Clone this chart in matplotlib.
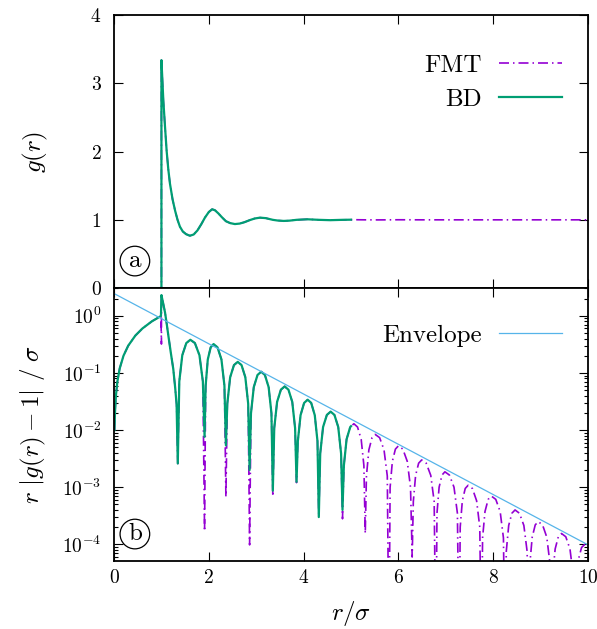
"""g(r) from FMT and BD, linear (a) and log (b) panels"""
import matplotlib; matplotlib.use("Agg")
import matplotlib.pyplot as plt

plt.rcParams["font.family"] = "serif"
plt.rcParams["font.serif"] = ["cmr10"]
plt.rcParams["mathtext.fontset"] = "cm"
plt.rcParams["axes.formatter.use_mathtext"] = True
plt.rcParams["axes.unicode_minus"] = False

PURPLE = "#9400d3"; GREEN = "#009e73"; BLUE = "#56b4e9"

# ---- panel (a): g(r) ----
bd_top_r = [0.0, 1.0, 1.0, 1.02, 1.04, 1.075, 1.11, 1.145, 1.18, 1.235, 1.29, 1.34, 1.39,
            1.45, 1.52, 1.6, 1.68, 1.76, 1.84, 1.92, 2.0, 2.07, 2.13, 2.2, 2.28, 2.36,
            2.45, 2.55, 2.65, 2.75, 2.86, 2.97, 3.08, 3.2, 3.35, 3.45, 3.58, 3.7, 3.85,
            4.08, 4.32, 4.56, 4.82, 5.0]
bd_top_g = [0.0, 0.0, 3.34, 3.05, 2.75, 2.37, 2.01, 1.74, 1.53, 1.30, 1.13, 1.0, 0.90,
            0.83, 0.79, 0.767, 0.785, 0.845, 0.935, 1.035, 1.115, 1.155, 1.14, 1.095,
            1.035, 0.98, 0.952, 0.938, 0.945, 0.965, 0.995, 1.02, 1.032, 1.025, 1.0,
            0.99, 0.984, 0.988, 1.0, 1.008, 1.0, 0.995, 1.0, 1.002]
# FMT lies on top of BD up to r = 5, then flat at 1
fmt_top_r = bd_top_r + [5.3, 5.55, 5.8, 6.0, 6.5, 7.0, 8.0, 10.0]
fmt_top_g = bd_top_g + [1.0, 0.999, 1.0, 1.001, 1.0, 1.0, 1.0, 1.0]

# ---- panel (b): r|g(r)-1| ----
core_r = [0.01, 0.02, 0.04, 0.07, 0.12, 0.2, 0.3, 0.45, 0.6, 0.8, 0.99]
core_y = [0.01, 0.02, 0.04, 0.07, 0.12, 0.2, 0.3, 0.45, 0.6, 0.8, 0.99]

bd_r = core_r + [1.0, 1.04, 1.076, 1.11, 1.146, 1.2, 1.25, 1.29, 1.32, 1.345,
                 1.377, 1.44, 1.525, 1.61, 1.706, 1.802, 1.874, 1.91,
                 1.933, 1.978, 2.039, 2.10, 2.183, 2.266, 2.329, 2.36,
                 2.39, 2.45, 2.53, 2.61, 2.69, 2.77, 2.83, 2.86,
                 2.889, 2.948, 3.027, 3.105, 3.183, 3.262, 3.321, 3.35,
                 3.38, 3.44, 3.52, 3.60, 3.68, 3.76, 3.82, 3.85,
                 3.878, 3.935, 4.01, 4.085, 4.16, 4.235, 4.292, 4.32,
                 4.35, 4.41, 4.49, 4.57, 4.65, 4.73, 4.79, 4.82,
                 4.849, 4.906, 4.983, 5.0]
bd_y = core_y + [2.3, 1.6, 1.14, 0.74, 0.45, 0.22, 0.117, 0.055, 0.028, 0.0026,
                 0.071, 0.204, 0.333, 0.38, 0.333, 0.204, 0.071, 0.0076,
                 0.060, 0.172, 0.280, 0.32, 0.280, 0.172, 0.060, 0.0054,
                 0.029, 0.084, 0.137, 0.156, 0.137, 0.084, 0.029, 0.0020,
                 0.0196, 0.0563, 0.092, 0.105, 0.092, 0.0563, 0.0196, 0.00087,
                 0.0108, 0.0311, 0.0508, 0.058, 0.0508, 0.0311, 0.0108, 0.00124,
                 0.0064, 0.0182, 0.0298, 0.034, 0.0298, 0.0182, 0.0064, 0.00030,
                 0.0039, 0.0113, 0.0184, 0.021, 0.0184, 0.0113, 0.0039, 0.00040,
                 0.0024, 0.0069, 0.0113, 0.0117]

fmt_r = core_r + [1.0, 1.001, 1.04, 1.076, 1.11, 1.146, 1.2, 1.25, 1.29, 1.32, 1.345,
                  1.377, 1.44, 1.525, 1.61, 1.706, 1.802, 1.874, 1.91,
                  1.933, 1.978, 2.039, 2.10, 2.183, 2.266, 2.329, 2.36,
                  2.39, 2.45, 2.53, 2.61, 2.69, 2.77, 2.83, 2.86,
                  2.889, 2.948, 3.027, 3.105, 3.183, 3.262, 3.321, 3.35,
                  3.38, 3.44, 3.52, 3.60, 3.68, 3.76, 3.82, 3.85,
                  3.878, 3.935, 4.01, 4.085, 4.16, 4.235, 4.292, 4.32,
                  4.35, 4.41, 4.49, 4.57, 4.65, 4.73, 4.79, 4.82,
                  4.849, 4.906, 4.983, 5.06, 5.137, 5.214, 5.271, 5.30,
                  5.325, 5.376, 5.443, 5.51, 5.603, 5.696, 5.765, 5.80,
                  5.824, 5.872, 5.936, 6.0, 6.093, 6.186, 6.255, 6.29,
                  6.314, 6.362, 6.426, 6.49, 6.586, 6.682, 6.754, 6.79,
                  6.813, 6.858, 6.919, 6.98, 7.076, 7.172, 7.244, 7.28,
                  7.303, 7.348, 7.409, 7.47, 7.56, 7.649, 7.716, 7.75,
                  7.775, 7.826, 7.893, 7.96, 8.053, 8.146, 8.215, 8.25,
                  8.275, 8.326, 8.393, 8.46, 8.553, 8.646, 8.715, 8.75,
                  8.774, 8.822, 8.886, 8.95, 9.04, 9.129, 9.196, 9.23,
                  9.255, 9.306, 9.373, 9.44, 9.53, 9.619, 9.686, 9.72,
                  9.745, 9.796, 9.863, 9.93, 10.0]
fmt_y = core_y + [0.32, 2.35, 1.6, 1.14, 0.74, 0.45, 0.22, 0.117, 0.055, 0.028, 0.0026,
                  0.071, 0.204, 0.333, 0.38, 0.333, 0.204, 0.071, 0.00017,
                  0.060, 0.172, 0.280, 0.32, 0.280, 0.172, 0.060, 0.00068,
                  0.029, 0.084, 0.137, 0.156, 0.137, 0.084, 0.029, 0.000098,
                  0.0196, 0.0563, 0.092, 0.105, 0.092, 0.0563, 0.0196, 0.00069,
                  0.0108, 0.0311, 0.0508, 0.058, 0.0508, 0.0311, 0.0108, 0.0012,
                  0.0064, 0.0182, 0.0298, 0.034, 0.0298, 0.0182, 0.0064, 0.00030,
                  0.0039, 0.0113, 0.0184, 0.021, 0.0184, 0.0113, 0.0039, 0.00028,
                  0.0024, 0.0069, 0.0113, 0.0129, 0.0113, 0.0069, 0.0024, 0.000155,
                  0.00157, 0.0045, 0.00736, 0.0084, 0.00736, 0.0045, 0.00157, 1e-6,
                  0.00099, 0.00284, 0.00464, 0.0053, 0.00464, 0.00284, 0.00099, 0.00006,
                  0.00056, 0.00161, 0.00263, 0.0030, 0.00263, 0.00161, 0.00056, 1e-6,
                  0.00035, 0.0010, 0.00163, 0.00186, 0.00163, 0.0010, 0.00035, 1e-6,
                  0.00020, 0.00058, 0.00095, 0.00108, 0.00095, 0.00058, 0.00020, 1e-6,
                  0.00013, 0.000375, 0.000613, 0.0007, 0.000613, 0.000375, 0.00013, 1e-6,
                  0.000075, 0.000214, 0.00035, 0.0004, 0.00035, 0.000214, 0.000075, 1e-6,
                  0.000047, 0.000134, 0.000219, 0.00025, 0.000219, 0.000134, 0.000047, 1e-6,
                  0.000029, 0.000083, 0.000136, 0.000155, 0.000136, 0.000083, 0.000029, 1e-6,
                  0.000019, 0.000054, 0.000088, 0.0001, 0.000096]

env_r = [0.0, 10.0]
env_y = [2.45, 9.8e-5]

FMT_LS = (0, (6, 2.4, 0.9, 2.4))

fig = plt.figure(figsize=(5.97, 6.29), dpi=100)
ax1 = fig.add_axes([0.191, 0.542, 0.794, 0.434])
ax2 = fig.add_axes([0.191, 0.108, 0.794, 0.434])

ax1.plot(fmt_top_r, fmt_top_g, color=PURPLE, lw=1.2, ls=FMT_LS, label="FMT")
ax1.plot(bd_top_r, bd_top_g, color=GREEN, lw=1.6, label="BD")
ax1.set_xlim(0, 10); ax1.set_ylim(0, 4)
ax1.set_yticks([0, 1, 2, 3, 4]); ax1.set_xticks(range(0, 11, 2))
ax1.set_xticklabels([])
ax1.set_ylabel(r"$g(r)$", fontsize=18)
ax1.yaxis.set_label_coords(-0.135, 0.5)
ax1.legend(loc="upper right", bbox_to_anchor=(0.945, 0.856), frameon=False,
           markerfirst=False, fontsize=18, handlelength=2.5, handletextpad=0.7,
           labelspacing=0.45, borderpad=0, borderaxespad=0)

ax2.plot(fmt_r, fmt_y, color=PURPLE, lw=1.2, ls=FMT_LS)
ax2.plot(bd_r, bd_y, color=GREEN, lw=1.6)
ax2.plot(env_r, env_y, color=BLUE, lw=0.9, label="Envelope")
ax2.set_yscale("log")
ax2.set_xlim(0, 10); ax2.set_ylim(5.1e-5, 3.05)
ax2.set_xticks(range(0, 11, 2))
ax2.set_xlabel(r"$r/\sigma$", fontsize=18, labelpad=8)
ax2.set_ylabel(r"$r\ |g(r)-1|\ /\ \sigma$", fontsize=18)
ax2.yaxis.set_label_coords(-0.14, 0.5)
ax2.legend(loc="upper right", bbox_to_anchor=(0.945, 0.867), frameon=False,
           markerfirst=False, fontsize=18, handlelength=2.5, handletextpad=0.7,
           borderpad=0, borderaxespad=0)

for ax, lab in [(ax1, "a"), (ax2, "b")]:
    ax.tick_params(which="both", direction="in", top=True, right=True, labelsize=14)
    ax.tick_params(which="major", length=6.5, width=0.8)
    ax.tick_params(which="minor", length=3.2, width=0.8)
    ax.tick_params(axis="y", pad=9); ax.tick_params(axis="x", pad=6)
    for s in ax.spines.values(): s.set_linewidth(1.3)
    ax.text(0.044, 0.099, lab, transform=ax.transAxes, ha="center", va="center",
            fontsize=18, bbox=dict(boxstyle="circle,pad=0.15", fc="white", ec="black", lw=0.9))

plt.savefig("out.png", dpi=100)
plt.close()
